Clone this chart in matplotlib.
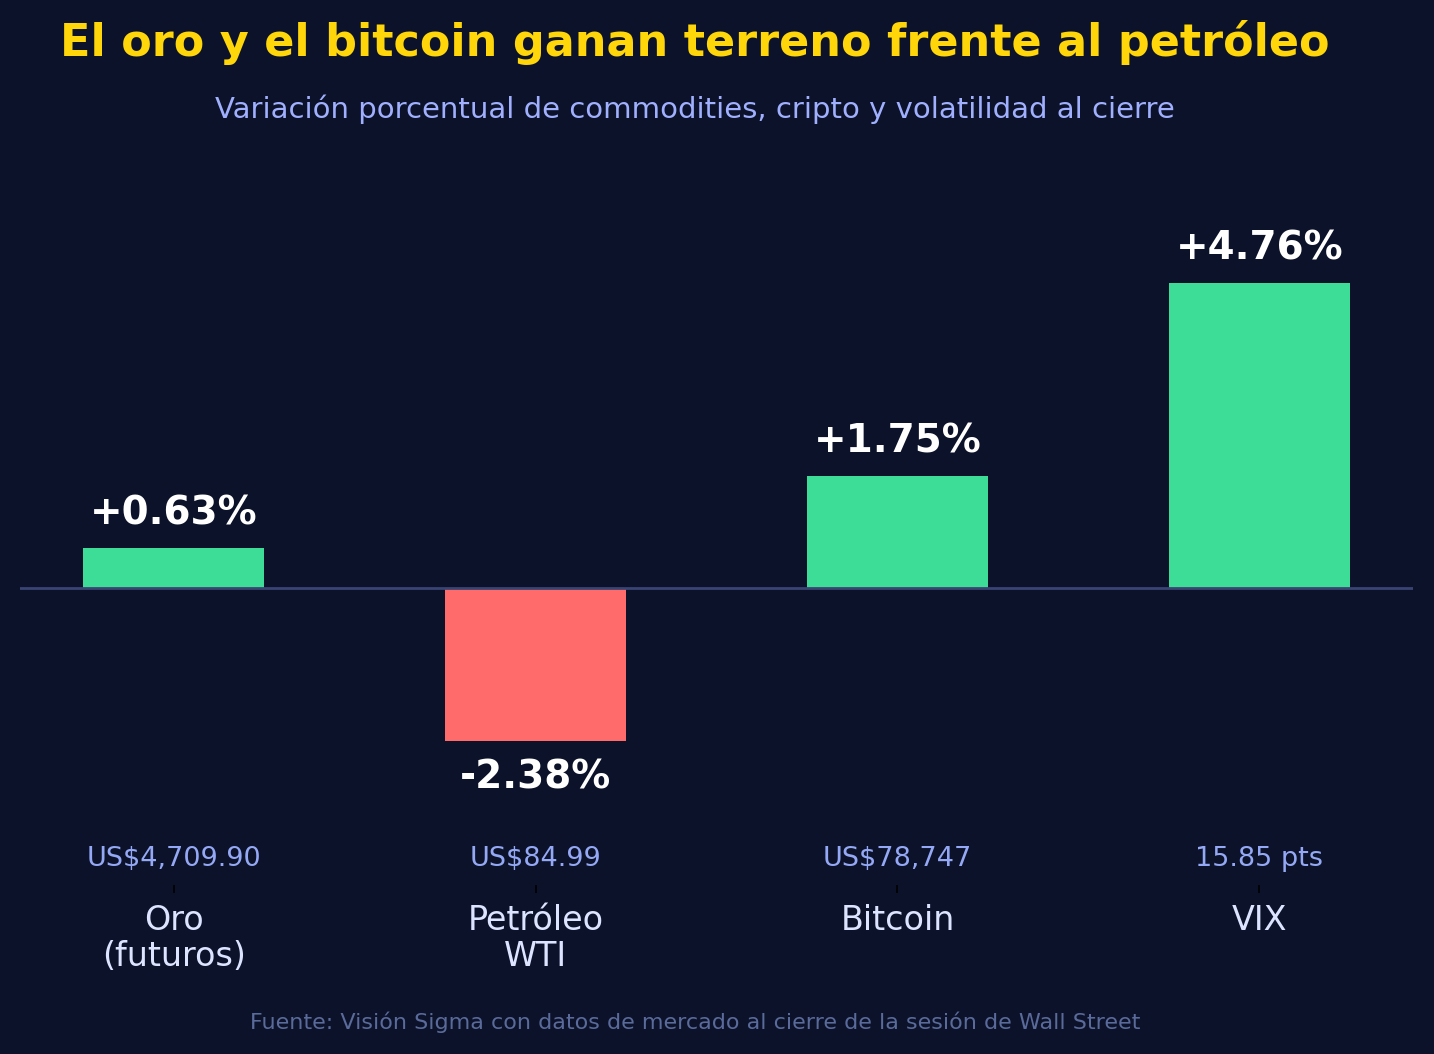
import matplotlib
matplotlib.use("Agg")
import matplotlib.pyplot as plt

categories = ["Oro\n(futuros)", "Petróleo\nWTI", "Bitcoin", "VIX"]
changes = [0.63, -2.38, 1.75, 4.76]
prices = ["US$4,709.90", "US$84.99", "US$78,747", "15.85 pts"]

BG = "#0b1229"
GREEN = "#3ddc97"
RED = "#ff6b6b"

fig = plt.figure(figsize=(14.34, 10.54), dpi=100, facecolor=BG)
ax = fig.add_axes([0.014, 0.1603, 0.9714, 0.657])
ax.set_facecolor(BG)

x = list(range(len(categories)))
colors = [GREEN if v >= 0 else RED for v in changes]
ax.bar(x, changes, width=0.5, color=colors, zorder=2)
ax.axhline(0, color="#3a4472", lw=2, zorder=3)
ax.set_ylim(-4.63, 6.17)

for xi, v in zip(x, changes):
    label = f"{v:+.2f}%"
    if v >= 0:
        ax.annotate(label, (xi, v), xytext=(0, 11), textcoords="offset points",
                    ha="center", va="bottom", color="white", fontsize=28, fontweight="bold")
    else:
        ax.annotate(label, (xi, v), xytext=(0, -13), textcoords="offset points",
                    ha="center", va="top", color="white", fontsize=28, fontweight="bold")

for xi, p in zip(x, prices):
    ax.text(xi, -4.22, p, ha="center", va="center", color="#94a8f5", fontsize=19.5)

ax.set_xticks(x)
ax.set_xticklabels(categories, fontsize=24, color="#dde4ff", linespacing=1.1)
ax.tick_params(axis="x", length=6, width=1.2, color="black", pad=8)
ax.set_yticks([])
for s in ax.spines.values():
    s.set_visible(False)

fig.text(0.4847, 0.96, "El oro y el bitcoin ganan terreno frente al petróleo",
         ha="center", va="center", color="#ffd60a", fontsize=32, fontweight="bold")
fig.text(0.4847, 0.896, "Variación porcentual de commodities, cripto y volatilidad al cierre",
         ha="center", va="center", color="#a0b0ff", fontsize=21)
fig.text(0.4847, 0.030, "Fuente: Visión Sigma con datos de mercado al cierre de la sesión de Wall Street",
         ha="center", va="center", color="#5a6a9a", fontsize=16)

fig.savefig("out.png", dpi=100, facecolor=BG)
